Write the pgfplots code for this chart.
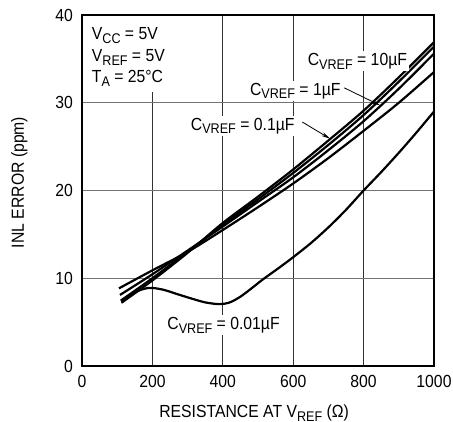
\documentclass[border=0pt]{standalone}
\usepackage{pgfplots}
\pgfplotsset{compat=1.18}
\usetikzlibrary{arrows.meta}
\usepackage{fontspec}
\setmainfont{Liberation Sans}[FakeStretch=0.9]
\newcommand{\sub}[1]{\raisebox{-0.22em}{\fontsize{14bp}{14bp}\selectfont #1}}
\begin{document}
\begin{tikzpicture}[font=\fontsize{17.5bp}{20bp}\selectfont]
\begin{axis}[
  scale only axis, width=352bp, height=351bp,
  xmin=0, xmax=1000, ymin=0, ymax=40,
  xtick={0,200,400,600,800,1000}, ytick={0,10,20,30,40},
  major tick length=0pt,
  grid=major,
  x grid style={black!80, line width=0.8bp},
  y grid style={black!55, line width=1bp},
  axis line style={line width=1.3bp},
  /pgf/number format/assume math mode=true,
  /pgf/number format/1000 sep={},
  ticklabel style={font=\fontsize{17.5bp}{20bp}\selectfont},
  xticklabel style={yshift=-6bp},
  yticklabel style={xshift=-5.5bp},
  xlabel={RESISTANCE AT V\sub{REF} (Ω)},
  xlabel style={at={(axis description cs:0.489,-0.147)}, anchor=base},
  ylabel={INL ERROR (ppm)},
  ylabel style={at={(axis description cs:-0.178,0.523)}, anchor=center},
]
% curve A (top at left, lowest at right)
\addplot[black, line width=2.2bp, smooth] coordinates {
 (105,8.85) (200,10.9) (300,13.0) (400,15.5) (500,18.1) (600,20.8) (700,23.7) (800,26.8) (900,30.0) (1000,33.5)};
% curve B
\addplot[black, line width=2.2bp, smooth] coordinates {
 (108,8.1) (200,10.45) (300,13.15) (400,15.9) (500,18.7) (600,21.5) (700,24.6) (800,27.9) (900,31.6) (1000,35.6)};
% curve C
\addplot[black, line width=2.2bp, smooth] coordinates {
 (110,7.45) (200,10.0) (300,13.0) (400,16.1) (500,19.0) (600,22.0) (700,25.2) (800,28.6) (900,32.4) (1000,36.4)};
% curve D
\addplot[black, line width=2.2bp, smooth] coordinates {
 (112,7.2) (200,9.75) (300,12.9) (400,16.3) (500,19.3) (600,22.4) (700,25.7) (800,29.1) (900,32.9) (1000,36.9)};
% 0.01 uF
\addplot[black, line width=2.2bp, smooth] coordinates {
 (112,7.35) (150,8.4) (190,8.9) (230,8.7) (270,8.2) (310,7.7) (350,7.25) (390,7.05) (420,7.25) (450,7.9) (480,8.8) (515,9.9) (560,11.2) (600,12.4) (650,14.0) (700,15.8) (750,17.8) (800,20.0) (850,22.1) (900,24.3) (950,26.6) (1000,29.0)};

\fill[white] (axis cs:2,39.85) rectangle (axis cs:232,31.2);
\node[anchor=base west, inner sep=0pt] at (axis cs:27.6,37.2) {V\sub{CC} = 5V};
\node[anchor=base west, inner sep=0pt] at (axis cs:27.6,34.66) {V\sub{REF} = 5V};
\node[anchor=base west, inner sep=0pt] at (axis cs:27.6,32.3) {T\sub{A} = 25°C};

\node[anchor=base west, fill=white, inner sep=2bp, xshift=-2bp] at (axis cs:641,34.28) {C\sub{VREF} = 10µF};
\node[anchor=base west, fill=white, inner sep=2bp, xshift=-2bp] at (axis cs:477,30.87) {C\sub{VREF} = 1µF};
\node[anchor=base west, fill=white, inner sep=2bp, xshift=-2bp] at (axis cs:309,26.88) {C\sub{VREF} = 0.1µF};
\node[anchor=base west, fill=white, inner sep=2bp, xshift=-2bp] at (axis cs:242,4.18) {C\sub{VREF} = 0.01µF};

\draw[-{Stealth[length=9bp,width=4bp]}, line width=0.8bp] (axis cs:745,31.7) -- (axis cs:847,29.7);
\draw[-{Stealth[length=9bp,width=4bp]}, line width=0.8bp] (axis cs:626,27.8) -- (axis cs:705,25.9);
\end{axis}
\pgfresetboundingbox
\path[use as bounding box] ([shift={(-82bp,-56bp)}]current axis.south west) rectangle ([shift={(19bp,15bp)}]current axis.north east);
\end{tikzpicture}
\end{document}
